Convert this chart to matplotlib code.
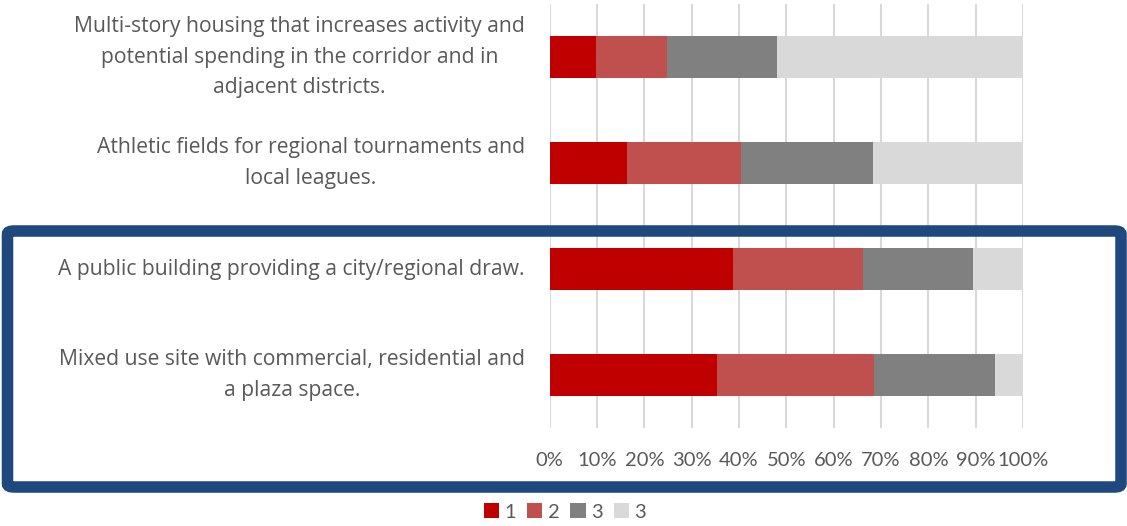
import matplotlib.pyplot as plt
import matplotlib.transforms as mtransforms
from matplotlib.patches import FancyBboxPatch

# survey options, top to bottom
options = [
    "Multi-story housing that increases activity and\npotential spending in the corridor and in\nadjacent districts.",
    "Athletic fields for regional tournaments and\nlocal leagues.",
    "A public building providing a city/regional draw.",
    "Mixed use site with commercial, residential and\na plaza space.",
]
# share of answers per rank (percent)
rank1 = [9.8, 16.4, 38.7, 35.3]
rank2 = [15.0, 24.1, 27.5, 33.3]
rank3 = [23.2, 27.8, 23.2, 25.5]
rank4 = [52.0, 31.7, 10.6, 5.9]
series_names = ["1", "2", "3", "3"]
colors = ["#C00000", "#C0504D", "#808080", "#D9D9D9"]
ticks = list(range(0, 101, 10))

W, H = 1127, 526
fig = plt.figure(figsize=(W / 100, H / 100), dpi=100)
ax = fig.add_axes([549.7 / W, 1 - 428 / H, (1023 - 549.7) / W, 424 / H])

txt = "#595959"
ypos = list(range(len(options)))
left = [0.0] * len(options)
handles = []
for vals, name, col in zip([rank1, rank2, rank3, rank4], series_names, colors):
    b = ax.barh(ypos, vals, left=left, height=0.4, color=col, label=name, zorder=3)
    handles.append(b)
    left = [l + v for l, v in zip(left, vals)]

ax.set_xlim(0, 100)
ax.set_ylim(len(options) - 0.5, -0.5)
ax.set_xticks(ticks)
ax.set_xticklabels([f"{t}%" for t in ticks], fontsize=14.5, color=txt, family="Lato")
ax.set_yticks([])
ax.tick_params(axis="x", length=0, pad=17)
ax.grid(axis="x", color="#D9D9D9", linewidth=1.5, zorder=0)
for s in ax.spines.values():
    s.set_visible(False)

# category labels, right edge aligned near the axis
trans = mtransforms.blended_transform_factory(fig.transFigure, ax.transData)
for y, lab in zip(ypos, options):
    ax.text(525 / W, y, lab, transform=trans, fontsize=15.2,
            family="Open Sans", color=txt, ha="right", va="center",
            multialignment="center", linespacing=1.57)

fig.legend(handles=handles, loc="center", bbox_to_anchor=(565 / W, 1 - 512 / H),
           ncol=4, frameon=False, handlelength=0.75, handleheight=0.75,
           handletextpad=0.27, columnspacing=0.55, labelcolor=txt,
           prop={"family": "Lato", "size": 14.5})

# highlight box around the last two options
box = FancyBboxPatch((7.5 / W, 1 - 487 / H), (1121 - 7.5) / W, (487 - 231) / H,
                     boxstyle="round,pad=0,rounding_size=0.006",
                     transform=fig.transFigure, fill=False,
                     edgecolor="#1F497D", linewidth=8.3, zorder=10)
fig.patches.append(box)

fig.savefig("out.png", dpi=100)
